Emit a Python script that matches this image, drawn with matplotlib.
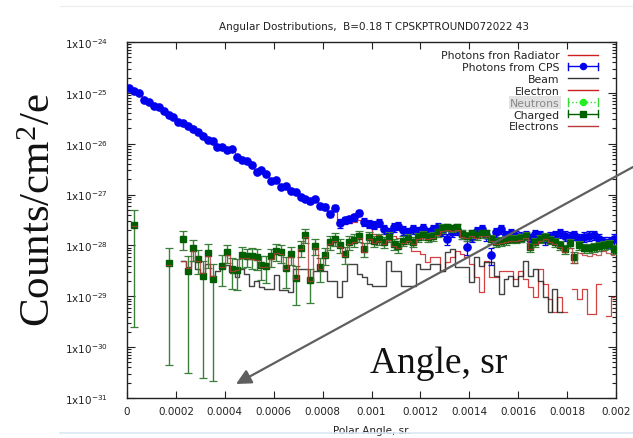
import numpy as np
import matplotlib
matplotlib.use("Agg")
import matplotlib.pyplot as plt
from matplotlib.lines import Line2D
from matplotlib.legend_handler import HandlerBase
from matplotlib.ticker import FixedLocator, FixedFormatter, LogLocator, NullFormatter

nan = np.nan

# ---- binning: 100 bins of 2e-5 sr between 0 and 0.002 ----
angle_edges = np.linspace(0.0, 0.002, 101)
angle = 0.5 * (angle_edges[:-1] + angle_edges[1:])

# ---- series (log10 of counts/cm^2/e) ----
cps_log10 = [
    -24.90, -24.96, -25.00, -25.14, -25.18, -25.26, -25.28, -25.36, -25.44, -25.47,
    -25.57, -25.59, -25.65, -25.71, -25.77, -25.85, -25.93, -25.94, -26.06, -26.07,
    -26.12, -26.10, -26.26, -26.32, -26.34, -26.42, -26.56, -26.52, -26.60, -26.73,
    -26.71, -26.85, -26.83, -26.93, -26.94, -27.05, -27.09, -27.13, -27.09, -27.22,
    -27.24, -27.38, -27.26, -27.56, -27.50, -27.48, -27.44, -27.36, -27.54, -27.58,
    -27.60, -27.56, -27.68, -27.74, -27.64, -27.62, -27.70, -27.74, -27.68, -27.72,
    -27.66, -27.74, -27.68, -27.64, -27.72, -27.87, -27.74, -27.70, -27.78, -28.03,
    -27.83, -27.72, -27.68, -27.80, -28.19, -27.74, -27.68, -27.80, -27.76, -27.81,
    -27.83, -27.80, -27.87, -27.78, -27.80, -27.87, -27.83, -27.80, -27.76, -27.81,
    -27.83, -27.80, -27.87, -27.83, -27.81, -27.80, -27.87, -27.93, -27.93, -27.87,
]
cps_relerr = [
    0.04, 0.04, 0.04, 0.04, 0.04, 0.04, 0.04, 0.04, 0.04, 0.04,
    0.04, 0.04, 0.04, 0.04, 0.04, 0.05, 0.05, 0.05, 0.05, 0.05,
    0.06, 0.06, 0.06, 0.06, 0.06, 0.06, 0.06, 0.07, 0.07, 0.07,
    0.07, 0.08, 0.08, 0.08, 0.08, 0.10, 0.10, 0.10, 0.10, 0.10,
    0.12, 0.12, 0.12, 0.20, 0.15, 0.15, 0.15, 0.15, 0.18, 0.18,
    0.18, 0.18, 0.20, 0.20, 0.18, 0.18, 0.20, 0.20, 0.18, 0.20,
    0.18, 0.20, 0.18, 0.18, 0.20, 0.25, 0.20, 0.20, 0.20, 0.30,
    0.22, 0.20, 0.20, 0.22, 0.35, 0.20, 0.20, 0.22, 0.20, 0.22,
    0.22, 0.20, 0.25, 0.20, 0.20, 0.25, 0.22, 0.20, 0.20, 0.22,
    0.22, 0.20, 0.25, 0.22, 0.22, 0.20, 0.25, 0.25, 0.25, 0.25,
]
radiator_log10 = [
    -24.92, -24.98, -25.02, -25.16, -25.20, -25.28, -25.30, -25.38, -25.46, -25.49,
    -25.59, -25.61, -25.67, -25.73, -25.79, -25.87, -25.95, -25.96, -26.08, -26.09,
    -26.14, -26.12, -26.28, -26.34, -26.36, -26.44, -26.58, -26.54, -26.62, -26.75,
    -26.73, -26.87, -26.85, -26.95, -26.96, -27.07, -27.11, -27.15, -27.11, -27.24,
    -27.26, -27.40, -27.28, -27.60, -27.58, -27.56, -27.53, -27.50, -27.60, -27.64,
    -27.78, -27.80, -27.84, -27.86, -27.82, -27.85, -27.88, -27.92, -28.11, -28.11,
    -28.17, -28.33, -28.23, -28.23, -28.50, -28.33, -28.23, -28.11, -28.17, -28.23,
    -28.37, -28.62, -28.92, -28.31, -28.62, -28.62, -28.50, -28.50, -28.50, -28.66,
    -28.50, -28.66, -28.82, -29.01, -28.46, -28.76, -29.05, -29.31, -29.01, -29.31,
    nan, -28.86, -29.05, -28.86, -29.35, -29.35, -28.76, nan, -29.39, -29.01,
]
beam_log10 = [
    nan, nan, nan, nan, nan, nan, nan, nan, nan, nan,
    nan, -28.31, -28.42, -28.31, -28.46, -28.56, -28.37, -28.66, -28.50, -28.42,
    -28.38, -28.54, -28.62, -28.46, -28.56, -28.80, -28.70, -28.82, -28.86, -28.86,
    -28.58, -28.88, -28.88, -28.92, -28.46, -28.46, -28.46, -28.72, -28.50, -28.50,
    -28.50, -28.70, -28.70, -29.01, -28.70, -28.37, -28.37, -28.56, -28.62, -28.76,
    -28.80, -28.80, -28.80, -28.31, -28.50, -28.50, -28.80, -28.80, -28.80, -28.37,
    -28.46, -28.46, -28.37, -28.37, -28.50, -28.13, -28.07, -28.42, -28.42, -28.42,
    -28.72, -28.23, -28.40, -28.33, -28.33, -28.60, -28.95, -28.66, -28.60, -28.80,
    -28.60, -28.31, -28.60, -28.46, -28.70, -29.01, -29.31, -28.86, -29.31, nan,
    nan, nan, nan, nan, nan, nan, nan, nan, nan, nan,
]
charged_log10 = [
    nan, -27.60, nan, nan, nan, nan, nan, nan, -28.35, nan,
    nan, -27.87, -28.50, -28.05, -28.27, -28.60, -28.15, -28.66, nan, -28.40,
    -28.13, -28.46, -28.48, -28.19, -28.21, -28.21, -28.23, -28.38, -28.40, -28.21,
    -28.11, -28.13, -28.44, -28.17, -28.64, -28.05, -27.80, -28.68, -28.01, -28.42,
    -28.19, -27.93, -27.87, -27.99, -28.17, -27.93, -27.89, -27.81, -28.07, -27.83,
    -27.91, -27.87, -27.93, -27.83, -27.97, -28.01, -27.91, -27.87, -27.93, -27.83,
    -27.80, -27.83, -27.81, -27.74, -27.66, -27.64, -27.66, -27.64, -27.78, -27.81,
    -27.76, -27.80, -27.76, -27.76, -27.87, -27.93, -27.91, -27.89, -27.87, -27.87,
    -27.85, -27.81, -28.03, -27.93, -27.87, -27.83, -27.89, -27.93, -27.99, -28.07,
    -27.95, -28.23, -27.99, -28.05, -28.05, -28.03, -28.01, -27.99, -27.97, -28.07,
]
charged_relerr = [
    nan, 0.99, nan, nan, nan, nan, nan, nan, 0.99, nan,
    nan, 0.40, 0.99, 0.45, 0.50, 0.99, 0.50, 0.99, nan, 0.60,
    0.40, 0.60, 0.60, 0.45, 0.40, 0.45, 0.45, 0.50, 0.55, 0.40,
    0.35, 0.40, 0.60, 0.40, 0.70, 0.35, 0.30, 0.65, 0.35, 0.50,
    0.35, 0.30, 0.28, 0.30, 0.35, 0.30, 0.28, 0.26, 0.30, 0.25,
    0.25, 0.24, 0.25, 0.22, 0.25, 0.26, 0.22, 0.22, 0.22, 0.20,
    0.20, 0.20, 0.20, 0.18, 0.18, 0.17, 0.17, 0.17, 0.20, 0.20,
    0.18, 0.18, 0.18, 0.18, 0.20, 0.20, 0.20, 0.20, 0.18, 0.18,
    0.18, 0.18, 0.22, 0.20, 0.18, 0.18, 0.18, 0.20, 0.20, 0.22,
    0.20, 0.25, 0.20, 0.22, 0.22, 0.20, 0.20, 0.20, 0.20, 0.22,
]
electrons_log10 = [
    nan, -27.62, nan, nan, nan, nan, nan, nan, -28.38, nan,
    nan, -28.30, -28.45, -28.10, -28.30, -28.55, -28.20, -28.60, nan, -28.42,
    -28.18, -28.50, -28.48, -28.24, -28.25, -28.26, -28.28, -28.42, -28.42, -28.26,
    -28.15, -28.16, -28.46, -28.22, -28.66, -28.08, -27.84, -28.70, -28.05, -28.46,
    -28.22, -27.98, -27.92, -28.03, -28.20, -27.97, -27.94, -27.86, -28.12, -27.88,
    -27.96, -27.92, -27.98, -27.89, -28.02, -28.06, -27.96, -27.92, -27.98, -27.88,
    -27.85, -27.88, -27.86, -27.79, -27.71, -27.69, -27.71, -27.69, -27.83, -27.86,
    -27.81, -27.85, -27.81, -27.81, -27.92, -27.98, -27.96, -27.94, -27.92, -27.92,
    -27.90, -27.86, -28.08, -27.98, -27.92, -27.88, -27.94, -27.98, -28.04, -28.12,
    -28.05, -28.35, -28.14, -28.18, -28.20, -28.16, -28.18, -28.10, -28.14, -28.18,
]

xtick_values = [0, 0.0002, 0.0004, 0.0006, 0.0008, 0.001, 0.0012, 0.0014, 0.0016, 0.0018, 0.002]
xtick_labels = ["0", "0.0002", "0.0004", "0.0006", "0.0008", "0.001",
                "0.0012", "0.0014", "0.0016", "0.0018", "0.002"]
ytick_exponents = [-31, -30, -29, -28, -27, -26, -25, -24]

title = "Angular Dostributions,  B=0.18 T CPSKPTROUND072022 43"
series_labels = ["Photons fron Radiator", "Photons from CPS", "Beam", "Electron",
                 "Neutrons", "Charged", "Electrons"]

cps = 10.0 ** np.array(cps_log10)
radiator = 10.0 ** np.array(radiator_log10)
beam = 10.0 ** np.array(beam_log10)
charged = 10.0 ** np.array(charged_log10)
electrons = 10.0 ** np.array(electrons_log10)
cps_err = cps * np.array(cps_relerr)
charged_err = charged * np.array(charged_relerr)

RED = "#cc2020"
RED2 = "#b83a3a"
BLUE = "#0000ee"
GREEN = "#005f00"
GREEN_BAR = "#3a7f3a"

plt.rcParams["font.family"] = ["DejaVu Sans"]
fig = plt.figure(figsize=(6.33, 4.39), dpi=100)
W, H = 633.0, 439.0
ax = fig.add_axes([127 / W, 1 - 399 / H, (616 - 127) / W, (399 - 43) / H])
ax.set_yscale("log")

# histogram-style lines
ax.step(angle, radiator, where="mid", color=RED, lw=0.9, alpha=0.85, zorder=2)
ax.errorbar(angle, cps, yerr=cps_err, fmt="o", color=BLUE, ms=5.2, lw=0.9,
            capsize=2.0, capthick=0.9, zorder=4)
ax.step(angle, beam, where="mid", color="#222222", lw=1.0, alpha=0.85, zorder=3)
ok = ~np.isnan(charged)
ax.errorbar(angle[ok], charged[ok], yerr=charged_err[ok], fmt="s", color=GREEN,
            ecolor=GREEN_BAR, ms=5.0, lw=1.0, capsize=2.6, capthick=0.9, zorder=5)
ax.step(angle, electrons, where="mid", color=RED2, lw=0.9, alpha=0.8, zorder=6)

ax.set_xlim(0, 0.002)
ax.set_ylim(1e-31, 1e-24)

ax.xaxis.set_major_locator(FixedLocator(xtick_values))
ax.xaxis.set_major_formatter(FixedFormatter(xtick_labels))
yt = [10.0 ** e for e in ytick_exponents]
ax.yaxis.set_major_locator(FixedLocator(yt))
ax.yaxis.set_major_formatter(FixedFormatter(
    ["1x10$\\mathregular{^{%d}}$" % e for e in ytick_exponents]))
ax.yaxis.set_minor_locator(LogLocator(base=10, subs=np.arange(2, 10), numticks=20))
ax.yaxis.set_minor_formatter(NullFormatter())
ax.tick_params(which="both", direction="in", top=True, right=True,
               labelsize=7.5, colors="#222222", width=0.8)
ax.tick_params(axis="x", which="major", length=5, pad=6)
ax.tick_params(axis="y", which="major", length=6, pad=14)
ax.tick_params(axis="y", which="minor", length=3)
for s in ax.spines.values():
    s.set_linewidth(1.0)
    s.set_color("#222222")

ax.set_xlabel("Polar Angle, sr.", fontsize=7.5, labelpad=6, color="#222222")
fig.text(374 / W, 1 - 27 / H, title, fontsize=7.5, ha="center", va="center",
         color="#222222")


# legend: text first, then a sample with end caps for error-bar series
class CapHandler(HandlerBase):
    def create_artists(self, legend, orig, xd, yd, width, height, fontsize, trans):
        y = (height - yd) / 2.0
        x0, x1 = -xd, width - xd
        arts = [Line2D([x0, x1], [y, y], color=orig.get_color(),
                       ls=orig.get_linestyle(), lw=orig.get_linewidth())]
        for xc in (x0, x1):
            arts.append(Line2D([xc, xc], [y - 2.6, y + 2.6], color=orig.get_color(),
                               lw=orig.get_linewidth()))
        arts.append(Line2D([(x0 + x1) / 2], [y], marker=orig.get_marker(), ls="none",
                           color=orig.get_markerfacecolor(), ms=orig.get_markersize()))
        for a in arts:
            a.set_transform(trans)
        return arts


h_rad = Line2D([], [], color=RED, lw=1.0)
h_cps = Line2D([], [], color=BLUE, lw=1.0, marker="o", ms=4.4, markerfacecolor=BLUE)
h_beam = Line2D([], [], color="#333333", lw=1.0)
h_el = Line2D([], [], color=RED, lw=1.0)
h_neu = Line2D([], [], color="#33dd33", lw=1.0, ls=":", marker="o", ms=4.4,
               markerfacecolor="#22ee22")
h_ch = Line2D([], [], color=GREEN, lw=1.0, marker="s", ms=4.6, markerfacecolor=GREEN)
h_els = Line2D([], [], color=RED2, lw=1.0)
cap = CapHandler()
leg = ax.legend([h_rad, h_cps, h_beam, h_el, h_neu, h_ch, h_els], series_labels,
                loc="upper right", bbox_to_anchor=(1 - 14 / 489, 1 - 4 / 356),
                frameon=False, markerfirst=False, fontsize=7.8, handlelength=2.7,
                handletextpad=0.8, labelspacing=0.17, borderaxespad=0.0,
                handler_map={h_cps: cap, h_neu: cap, h_ch: cap})
for t in leg.get_texts():
    t.set_color("#222222")
neu = leg.get_texts()[4]
neu.set_color("#888888")
neu.set_bbox(dict(facecolor="#e2e2e2", edgecolor="none", pad=1.0))

# slide annotations
fig.text(40 / W, 1 - 210 / H, "Counts/cm$\\mathregular{^2}$/e", family="Liberation Serif",
         fontsize=31, rotation=90, ha="center", va="center", color="#111111")
fig.text(370 / W, 1 - 373 / H, "Angle, sr", family="Liberation Serif", fontsize=27,
         ha="left", va="baseline", color="#111111")
ax.annotate("", xy=(236 / W, 1 - 385 / H), xycoords="figure fraction",
            xytext=(633 / W, 1 - 168 / H), textcoords="figure fraction",
            arrowprops=dict(arrowstyle="-|>,head_length=0.9,head_width=0.45",
                            color="#5f5f5f", lw=1.6, shrinkA=0, shrinkB=0),
            annotation_clip=False, zorder=10)

# faint slide frame
fig.add_artist(Line2D([60 / W, 1], [1 - 7 / H, 1 - 7 / H], color="#ececec", lw=0.8))
fig.add_artist(Line2D([60 / W, 1], [1 - 434 / H, 1 - 434 / H], color="#dbe7f5", lw=1.2))

fig.savefig("out.png", dpi=100)
